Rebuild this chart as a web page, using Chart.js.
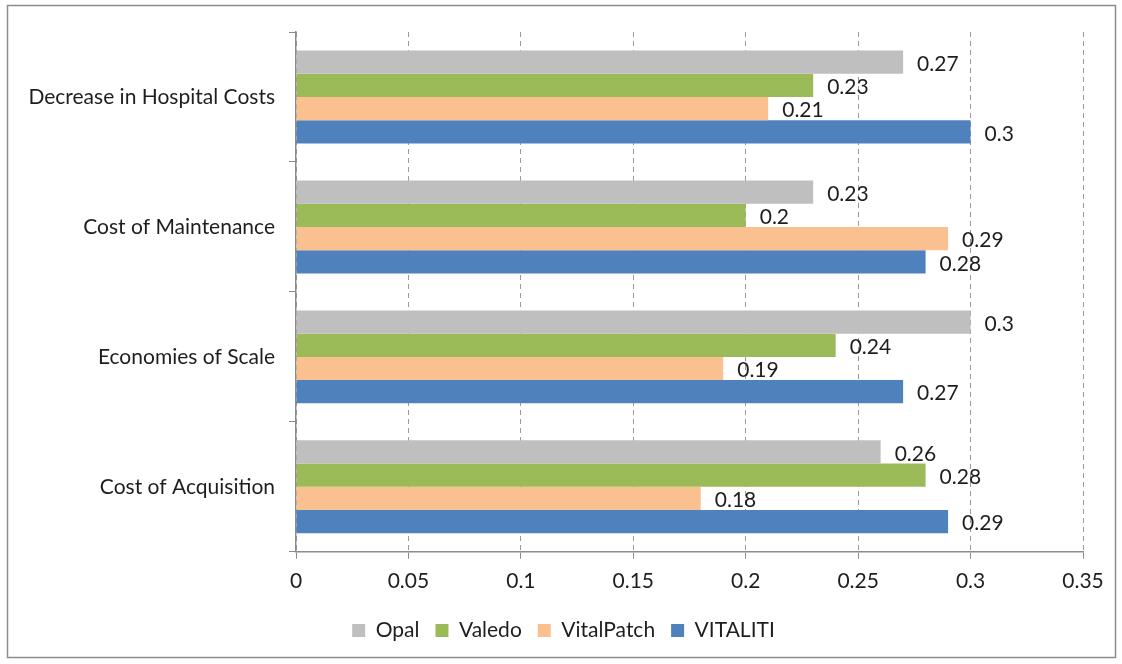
<!DOCTYPE html>
<html>
<head>
<meta charset="utf-8">
<script src="https://cdn.jsdelivr.net/npm/chart.js@4/dist/chart.umd.min.js"></script>
<style>
  html, body { margin: 0; padding: 0; background: #fff; }
  #wrap { width: 1122px; height: 664px; position: relative; }
</style>
</head>
<body>
<div id="wrap"><canvas id="myChart"></canvas></div>
<script>
const categories = ['Decrease in Hospital Costs', 'Cost of Maintenance', 'Economies of Scale', 'Cost of Acquisition'];
const opal = [0.27, 0.23, 0.3, 0.26];
const valedo = [0.23, 0.2, 0.24, 0.28];
const vitalPatch = [0.21, 0.29, 0.19, 0.18];
const vitaliti = [0.3, 0.28, 0.27, 0.29];

const FONT = 'Lato, "Noto Sans", sans-serif';
const TEXT = '#1e1e1e';

// outer frame like the office chart border
const framePlugin = {
    id: 'frame',
    beforeDraw(chart) {
        const c = chart.ctx;
        c.save();
        c.fillStyle = '#fff';
        c.fillRect(0, 0, chart.width, chart.height);
        c.strokeStyle = '#8c8c8c';
        c.lineWidth = 1.5;
        c.strokeRect(7.5, 5.5, 1108, 652);
        c.restore();
    },
    // legend sits a bit right of the canvas centre in the original
    afterLayout(chart) {
        chart.legend.left += 22;
        chart.legend.right += 22;
    }
};

// value labels after the end of each bar
const valueLabels = {
    id: 'valueLabels',
    afterDatasetsDraw(chart) {
        const c = chart.ctx;
        c.save();
        c.font = '21px ' + FONT;
        c.fillStyle = TEXT;
        c.textBaseline = 'middle';
        c.textAlign = 'left';
        chart.data.datasets.forEach(function(ds, i) {
            const meta = chart.getDatasetMeta(i);
            meta.data.forEach(function(bar, j) {
                c.fillText(String(ds.data[j]), bar.x + 14, bar.y + 2);
            });
        });
        c.restore();
    }
};

const ctx = document.getElementById('myChart').getContext('2d');
const chart = new Chart(ctx, {
    type: 'bar',
    data: {
        labels: categories,
        datasets: [
            { label: 'Opal', data: opal, backgroundColor: '#bfbfbf' },
            { label: 'Valedo', data: valedo, backgroundColor: '#9bbb59' },
            { label: 'VitalPatch', data: vitalPatch, backgroundColor: '#fac090' },
            { label: 'VITALITI', data: vitaliti, backgroundColor: '#4f81bd' }
        ]
    },
    options: {
        indexAxis: 'y',
        responsive: true,
        maintainAspectRatio: false,
        animation: false,
        layout: { padding: { left: 0, right: 39, top: 32, bottom: 13 } },
        datasets: {
            bar: { categoryPercentage: 0.715, barPercentage: 1.0, borderWidth: 0 }
        },
        scales: {
            x: {
                min: 0,
                max: 0.35,
                ticks: {
                    stepSize: 0.05,
                    color: TEXT,
                    font: { size: 21, family: FONT },
                    padding: 10,
                    callback: function(v) { return String(+v.toFixed(2)); }
                },
                grid: {
                    color: '#9a9a9a',
                    tickLength: 7,
                    tickColor: '#8c8c8c'
                },
                border: { display: true, color: '#8c8c8c', width: 1.5, dash: [5, 4] }
            },
            y: {
                ticks: {
                    color: TEXT,
                    font: { size: 21, family: FONT },
                    padding: 14
                },
                grid: {
                    drawOnChartArea: false,
                    tickLength: 7,
                    color: '#8c8c8c',
                    offset: true
                },
                border: { display: true, color: '#8c8c8c', width: 1.5 },
                afterFit: function(scale) { scale.width = 296; }
            }
        },
        plugins: {
            legend: {
                position: 'bottom',
                labels: {
                    boxWidth: 13,
                    boxHeight: 13,
                    color: TEXT,
                    font: { size: 21, family: FONT },
                    padding: 16
                }
            },
            tooltip: { enabled: false }
        }
    },
    plugins: [framePlugin, valueLabels]
});
</script>
</body>
</html>
